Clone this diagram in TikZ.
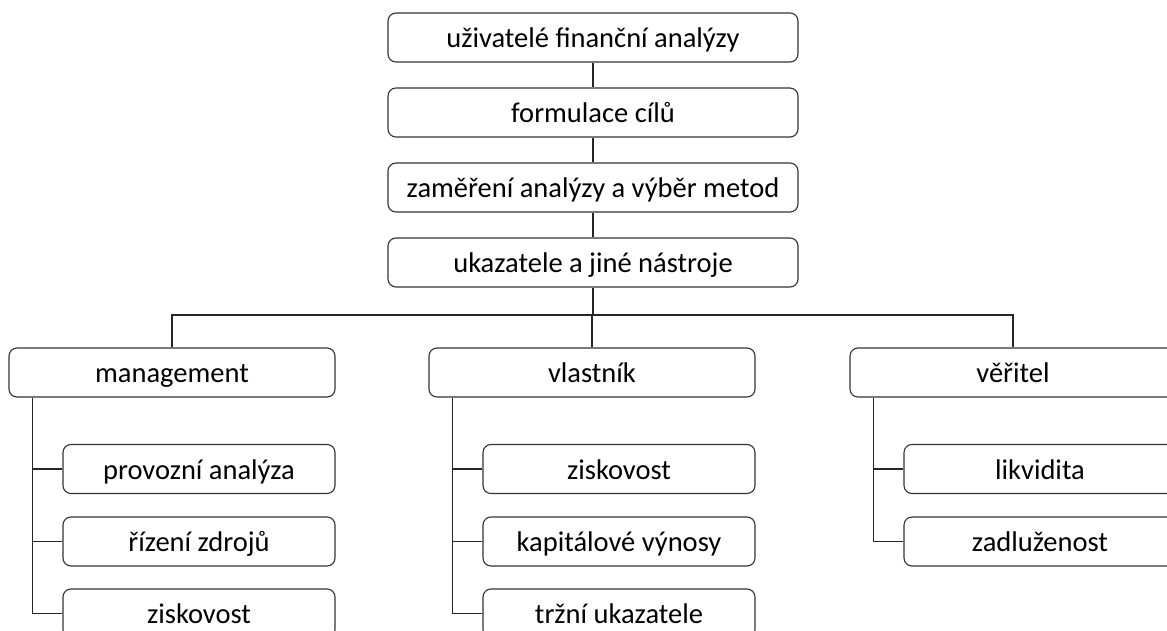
\documentclass[tikz,border=0pt]{standalone}
\usepackage{fontspec}
\setmainfont{Carlito}
\begin{document}
\begin{tikzpicture}[x=1pt,y=-1pt,
  box/.style={draw=black!80,line width=1.1pt,fill=white,rounded corners=8pt,
    minimum height=49pt,inner sep=0pt,text height=23pt,text depth=3pt,
    font=\fontsize{28.5}{34}\selectfont,text=black},
  topbox/.style={box,minimum width=410pt},
  midbox/.style={box,minimum width=326pt},
  subbox/.style={box,minimum width=272pt},
  conn/.style={draw=black!85,line width=1.1pt}]
\useasboundingbox (0,0) rectangle (1167,631);
\clip (0,0) rectangle (1167,631);
% top chain
\node[topbox] (t1) at (593,37.5) {uživatelé finanční analýzy};
\node[topbox] (t2) at (593,112.5) {formulace cílů};
\node[topbox] (t3) at (593,187.5) {zaměření analýzy a výběr metod};
\node[topbox] (t4) at (593,262.5) {ukazatele a jiné nástroje};
% level 2
\node[midbox] (m) at (172,372.5) {management};
\node[midbox] (v) at (592,372.5) {vlastník};
\node[midbox] (r) at (1013,372.5) {věřitel};
% children
\node[subbox] (m1) at (199,469) {provozní analýza};
\node[subbox] (m2) at (199,541.5) {řízení zdrojů};
\node[subbox] (m3) at (199,613.5) {ziskovost};
\node[subbox] (v1) at (619,469) {ziskovost};
\node[subbox] (v2) at (619,541.5) {kapitálové výnosy};
\node[subbox] (v3) at (619,613.5) {tržní ukazatele};
\node[subbox] (r1) at (1040,469) {likvidita};
\node[subbox] (r2) at (1040,541.5) {zadluženost};
\coordinate (bus) at (593,315);
% connectors
\draw[conn] (t1) -- (t2);
\draw[conn] (t2) -- (t3);
\draw[conn] (t3) -- (t4);
\draw[conn] (t4.south) -- (bus);
\draw[conn] (m.north) |- (bus) -| (r.north);
\draw[conn] (bus) -| (v.north);
\draw[conn] ([xshift=24pt]m.south west) |- (m3.west);
\draw[conn] ([xshift=24pt]m.south west |- m1.west) -- (m1.west);
\draw[conn] ([xshift=24pt]m.south west |- m2.west) -- (m2.west);
\draw[conn] ([xshift=24pt]v.south west) |- (v3.west);
\draw[conn] ([xshift=24pt]v.south west |- v1.west) -- (v1.west);
\draw[conn] ([xshift=24pt]v.south west |- v2.west) -- (v2.west);
\draw[conn] ([xshift=24pt]r.south west) |- (r2.west);
\draw[conn] ([xshift=24pt]r.south west |- r1.west) -- (r1.west);
\end{tikzpicture}
\end{document}
